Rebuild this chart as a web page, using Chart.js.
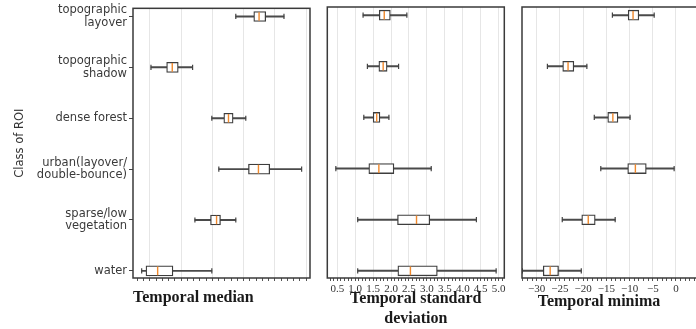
<!DOCTYPE html>
<html lang="en">
<head>
<meta charset="UTF-8">
<title>Class of ROI</title>
<script src="https://cdn.jsdelivr.net/npm/chart.js"></script>
<style>
    html, body { margin: 0; padding: 0; background: #fff; overflow: hidden; }
    #wrap { position: relative; width: 696px; height: 329px; overflow: hidden; }
    canvas { position: absolute; top: 0; }
    #c1 { left: 0; }
    #c2 { left: 320px; }
    #c3 { left: 510px; }
</style>
</head>
<body>
<div id="wrap">
    <canvas id="c1" width="320" height="329"></canvas>
    <canvas id="c2" width="190" height="329"></canvas>
    <canvas id="c3" width="200" height="329"></canvas>
</div>
<script>
// classes, top to bottom
const classes = [
    ['topographic', 'layover'],
    ['topographic', 'shadow'],
    ['dense forest'],
    ['urban(layover/', 'double-bounce)'],
    ['sparse/low', 'vegetation'],
    ['water']
];

// Temporal median: whisker low, Q1, median, Q3, whisker high
const medLow  = [-11.25, -24.84, -15.09, -13.97, -17.8, -26.33];
const medQ1   = [-8.37, -22.33, -13.17, -9.22, -15.3, -25.64];
const medMid  = [-7.52, -21.43, -12.42, -7.62, -14.33, -23.77];
const medQ3   = [-6.45, -20.47, -11.68, -5.81, -13.7, -21.32];
const medHigh = [-3.53, -18.17, -9.65, -0.7, -11.25, -15.09];

// Temporal standard deviation
const stdLow  = [1.22, 1.34, 1.24, 0.46, 1.07, 1.07];
const stdQ1   = [1.67, 1.66, 1.5, 1.38, 2.18, 2.19];
const stdMid  = [1.81, 1.78, 1.6, 1.66, 2.71, 2.54];
const stdQ3   = [1.98, 1.89, 1.69, 2.08, 3.08, 3.29];
const stdHigh = [2.44, 2.21, 1.94, 3.12, 4.38, 4.93];

// Temporal minima
const minLow  = [-13.7, -27.7, -17.6, -16.2, -24.5, -33.1];
const minQ1   = [-10.3, -24.4, -14.7, -10.4, -20.3, -28.6];
const minMid  = [-9.25, -23.25, -13.6, -8.75, -18.9, -27.1];
const minQ3   = [-8.0, -22.0, -12.5, -6.4, -17.4, -25.3];
const minHigh = [-4.7, -19.2, -9.9, -0.4, -13.1, -20.4];

// major tick labels (panel 1 has no labels shown)
const medMajor = [-25, -20, -15, -10, -5, 0];
const stdMajor = [0.5, 1.0, 1.5, 2.0, 2.5, 3.0, 3.5, 4.0, 4.5, 5.0];
const minMajor = [-30, -25, -20, -15, -10, -5, 0, 5];

// draws the box around each plot area
const framePlugin = {
    id: 'frame',
    afterDatasetsDraw(chart) {
        const { ctx, chartArea: a } = chart;
        ctx.save();
        ctx.strokeStyle = '#3a3a3a';
        ctx.lineWidth = 1.5;
        ctx.strokeRect(a.left, a.top, a.right - a.left, a.bottom - a.top);
        ctx.restore();
    }
};

function isMajor(v, major) {
    return major.some(m => Math.abs(m - v) < 1e-6);
}

function makeBoxChart(id, s) {
    const idx = classes.map((c, i) => i);
    const ctx = document.getElementById(id).getContext('2d');
    return new Chart(ctx, {
        type: 'bar',
        data: {
            datasets: [
                { // median
                    type: 'scatter',
                    data: idx.map(i => ({ x: s.mid[i], y: i })),
                    pointStyle: 'line', pointRotation: 90, pointRadius: 4.3,
                    pointBorderColor: '#f0892d', pointBorderWidth: 1.4,
                    order: 1
                },
                { // whisker caps
                    type: 'scatter',
                    data: idx.flatMap(i => [{ x: s.low[i], y: i }, { x: s.high[i], y: i }]),
                    pointStyle: 'line', pointRotation: 90, pointRadius: 2.6,
                    pointBorderColor: '#444', pointBorderWidth: 1.2,
                    order: 2
                },
                { // box
                    type: 'bar',
                    data: idx.map(i => ({ x: [s.q1[i], s.q3[i]], y: i })),
                    backgroundColor: '#fff', borderColor: '#3d3d3d', borderWidth: 1.3,
                    borderSkipped: false, barThickness: 10, grouped: false,
                    order: 3
                },
                { // whisker line
                    type: 'bar',
                    data: idx.map(i => ({ x: [s.low[i], s.high[i]], y: i })),
                    backgroundColor: '#4a4a4a', borderWidth: 0,
                    barThickness: 1.3, grouped: false,
                    order: 4
                }
            ]
        },
        options: {
            responsive: false,
            animation: false,
            indexAxis: 'y',
            layout: { padding: { left: s.padLeft, right: s.padRight, top: 7, bottom: 0 } },
            plugins: { legend: { display: false }, tooltip: { enabled: false } },
            scales: {
                x: {
                    type: 'linear',
                    min: s.min, max: s.max, offset: false,
                    afterBuildTicks: scale => {
                        const ticks = [];
                        const first = Math.ceil(s.min / s.step - 1e-6);
                        for (let k = first; k * s.step <= s.max + 1e-6; k++) {
                            ticks.push({ value: Math.round(k * s.step * 100) / 100 });
                        }
                        scale.ticks = ticks;
                    },
                    afterFit: scale => { scale.height = 51; },
                    grid: {
                        color: c => (c.tick && isMajor(c.tick.value, s.major)) ? '#e6e6e6' : 'rgba(0,0,0,0)',
                        lineWidth: 1,
                        drawTicks: true, tickLength: 3, tickColor: '#555'
                    },
                    border: { display: false },
                    ticks: {
                        autoSkip: false, maxRotation: 0, minRotation: 0, padding: 2,
                        color: '#333',
                        font: { family: 'Liberation Serif', size: 11 },
                        callback: v => (s.showLabels && isMajor(v, s.major)) ? s.fmt(v) : ''
                    },
                    title: {
                        display: true, text: s.title, align: s.titleAlign,
                        color: '#1a1a1a',
                        font: { family: 'Liberation Serif', size: 16, weight: 'bold', lineHeight: 1.25 },
                        padding: { top: 0, bottom: s.titlePad }
                    }
                },
                y: {
                    type: 'linear',
                    min: -0.16, max: 5.14, reverse: true, offset: false,
                    display: s.showY,
                    afterBuildTicks: scale => { scale.ticks = idx.map(i => ({ value: i })); },
                    afterFit: scale => { scale.width = s.showY ? 133 : 0; },
                    grid: { offset: false, drawOnChartArea: false, drawTicks: true, tickLength: 4, tickColor: '#444' },
                    border: { display: false },
                    ticks: {
                        padding: 2, color: '#3a3a3a',
                        font: { family: 'DejaVu Sans', size: 11.5, lineHeight: 1.1 },
                        callback: (v, i) => classes[i]
                    },
                    title: {
                        display: true, text: 'Class of ROI', color: '#333',
                        font: { family: 'DejaVu Sans', size: 11.5 },
                        padding: { top: 13, bottom: 0 }
                    }
                }
            }
        },
        plugins: [framePlugin]
    });
}

makeBoxChart('c1', {
    low: medLow, q1: medQ1, mid: medMid, q3: medQ3, high: medHigh,
    min: -27.72, max: 0.64, step: 1, major: medMajor, showLabels: false,
    fmt: v => String(v),
    title: 'Temporal median', titleAlign: 'start', titlePad: 21,
    showY: true, padLeft: 0, padRight: 10
});

makeBoxChart('c2', {
    low: stdLow, q1: stdQ1, mid: stdMid, q3: stdQ3, high: stdHigh,
    min: 0.222, max: 5.158, step: 0.1, major: stdMajor, showLabels: true,
    fmt: v => v.toFixed(1),
    title: ['Temporal standard', 'deviation'], titleAlign: 'center', titlePad: 0,
    showY: false, padLeft: 7.3, padRight: 5
});

// trailing spaces keep the title a little left of the (cut-off) panel centre, as in the source
makeBoxChart('c3', {
    low: minLow, q1: minQ1, mid: minMid, q3: minQ3, high: minHigh,
    min: -33.17, max: 5.17, step: 1, major: minMajor, showLabels: true,
    fmt: v => (v < 0 ? '\u2212' + Math.abs(v) : String(v)),
    title: 'Temporal minima\u00a0\u00a0\u00a0\u00a0\u00a0\u00a0', titleAlign: 'center', titlePad: 17,
    showY: false, padLeft: 12, padRight: 10
});
</script>
</body>
</html>
